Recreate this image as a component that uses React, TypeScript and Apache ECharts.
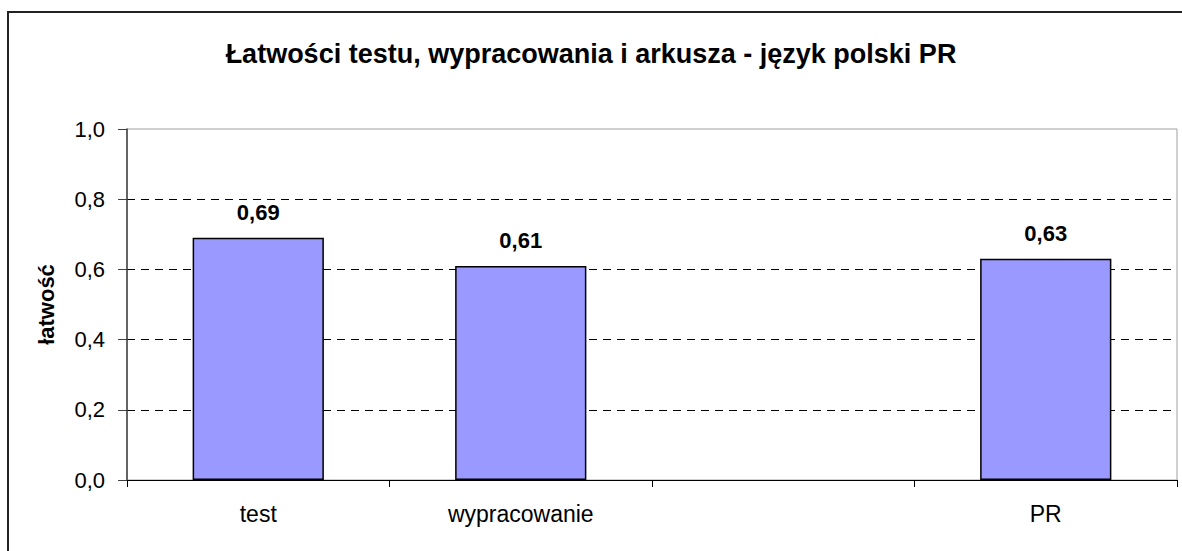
import React, { useEffect, useRef } from "react";
import * as echarts from "echarts";

const titleText = "Łatwości testu, wypracowania i arkusza - język polski PR";
const yAxisName = "łatwość";
const categories = ["test", "wypracowanie", "", "PR"];
const values: (number | null)[] = [0.69, 0.61, null, 0.63];
const yTicks = { min: 0, max: 1, interval: 0.2 };

const FONT = "'Liberation Sans', Arial, sans-serif";

export default function App() {
  const ref = useRef<HTMLDivElement>(null);
  useEffect(() => {
    if (!ref.current) return;
    const chart = echarts.init(ref.current, null, { renderer: "svg" });
    chart.setOption({
      animation: false,
      backgroundColor: "#ffffff",
      title: {
        text: titleText,
        left: "center",
        top: 35,
        padding: [5, 9, 5, 5],
        textStyle: { fontFamily: FONT, fontSize: 27, fontWeight: "bold", color: "#000" },
      },
      graphic: [
        {
          type: "rect",
          shape: { x: 8, y: 12, width: 1400, height: 800 },
          style: { fill: "none", stroke: "#222", lineWidth: 2 },
          silent: true,
        },
      ],
      grid: {
        left: 127,
        right: 5,
        top: 129,
        bottom: 71,
        show: true,
        borderColor: "#a0a0a0",
        borderWidth: 1,
        backgroundColor: "transparent",
      },
      xAxis: {
        type: "category",
        data: categories,
        boundaryGap: true,
        axisLine: { show: true, lineStyle: { color: "#000", width: 1 } },
        axisTick: { show: true, length: 7, lineStyle: { color: "#000" } },
        axisLabel: { fontFamily: FONT, fontSize: 23, color: "#000", margin: 22, interval: 0 },
        splitLine: { show: false },
      },
      yAxis: {
        type: "value",
        min: yTicks.min,
        max: yTicks.max,
        interval: yTicks.interval,
        name: yAxisName,
        nameLocation: "middle",
        nameRotate: 90,
        nameGap: 70,
        nameTextStyle: { fontFamily: FONT, fontSize: 22, fontWeight: "bold", color: "#000" },
        axisLine: { show: true, lineStyle: { color: "#404040", width: 1.5 } },
        axisTick: { show: true, length: 9, inside: false, lineStyle: { color: "#404040" } },
        axisLabel: {
          fontFamily: FONT,
          fontSize: 22,
          color: "#000",
          margin: 22,
          formatter: (v: number) => v.toFixed(1).replace(".", ","),
        },
        splitLine: {
          show: true,
          showMinLine: false,
          showMaxLine: false,
          lineStyle: { color: "#000", type: [8, 6], width: 1 },
        },
      },
      series: [
        {
          type: "bar",
          data: values,
          barWidth: "50%",
          itemStyle: { color: "#9999FF", borderColor: "#000", borderWidth: 1.5 },
          label: {
            show: true,
            position: "top",
            distance: 14,
            fontFamily: FONT,
            fontSize: 22,
            fontWeight: "bold",
            color: "#000",
            formatter: (p: any) => (p.value == null ? "" : Number(p.value).toFixed(2).replace(".", ",")),
          },
        },
      ],
    });
    return () => chart.dispose();
  }, []);
  return (
    <div
      ref={ref}
      style={{ position: "fixed", left: 0, top: 0, width: 1182, height: 551 }}
    />
  );
}
